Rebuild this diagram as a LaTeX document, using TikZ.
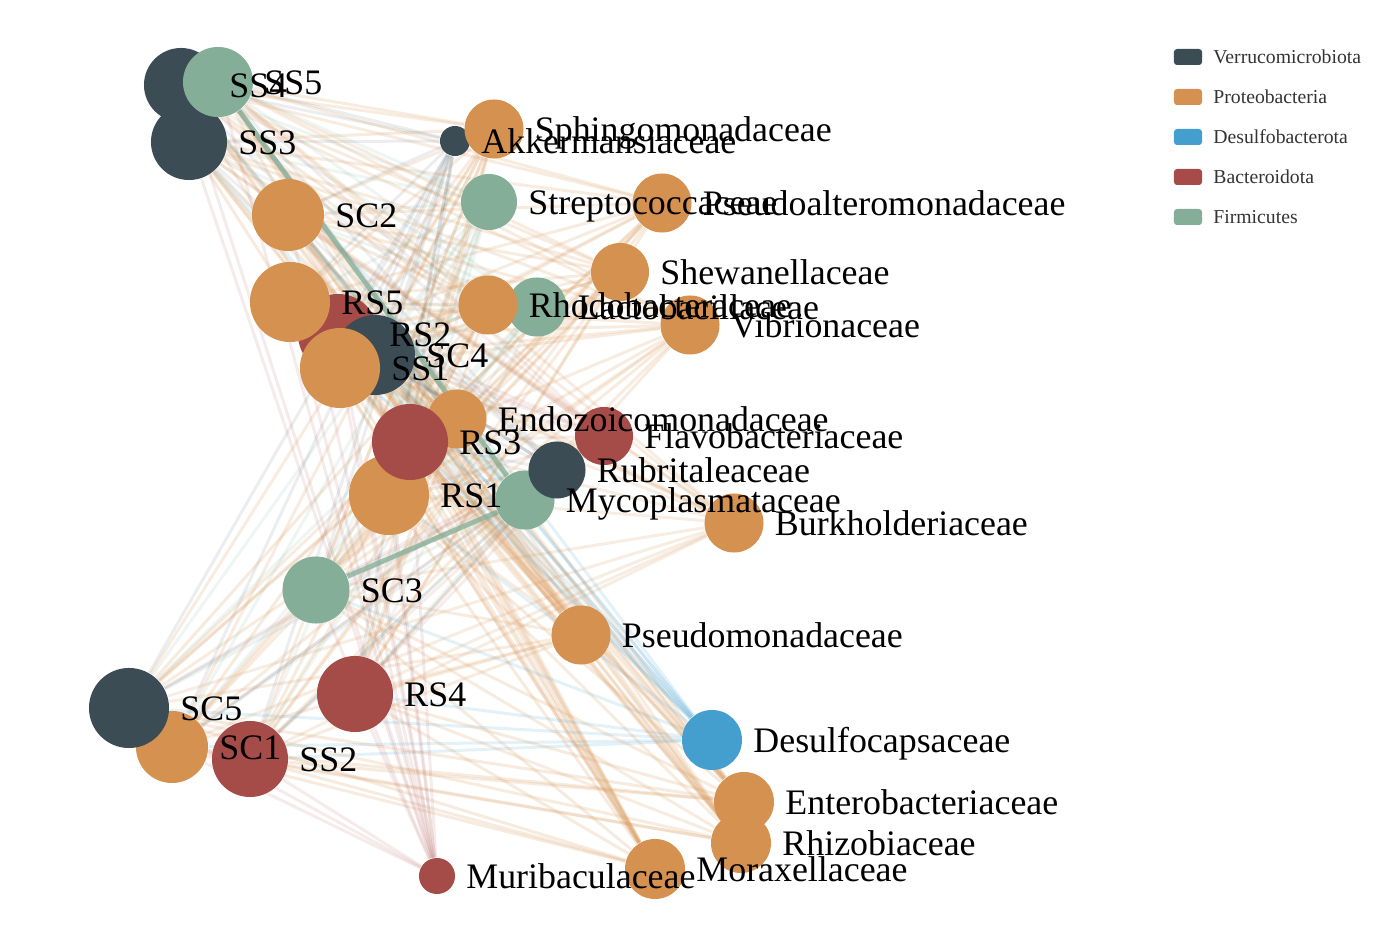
\documentclass[tikz,border=0pt]{standalone}
\usepackage{fontspec}
\setmainfont{Liberation Serif}
\usetikzlibrary{positioning}
\definecolor{verru}{RGB}{59,76,85}
\definecolor{prot}{RGB}{212,145,79}
\definecolor{desul}{RGB}{68,159,207}
\definecolor{bact}{RGB}{165,75,72}
\definecolor{firm}{RGB}{132,174,151}
\pgfdeclarelayer{background}
\pgfsetlayers{background,main}
\tikzset{
  bub/.style     = {circle, inner sep=0pt, minimum size=#1mm},
  bub/.default   = 5.9,
  lbl/.style     = {anchor=base west, inner sep=0pt, font=\fontsize{10.2}{12}\selectfont},
  link/.style    = {draw=#1, line width=0.3mm},
  hub/.style     = {draw=#1, line width=0.5mm, draw opacity=0.75},
  key/.style     = {rectangle, rounded corners=0.3mm, minimum width=2.8mm,
                    minimum height=1.6mm, inner sep=0pt},
  keytext/.style = {inner sep=0pt, text=black!80, font=\fontsize{5.6}{7}\selectfont},
}

\begin{document}
\begin{tikzpicture}[x=0.01cm, y=-0.01cm]
  \useasboundingbox (0,0) rectangle (1390,946);

  % sample nodes
  \node[bub=7.4, fill=verru] (SS4) at (181,85)  {};
  \node[bub=7.6, fill=verru] (SS3) at (189,142) {};
  \node[bub=7.0, fill=firm]  (SS5) at (218,82)  {};
  \node[bub=7.2, fill=prot]  (SC2) at (288,215) {};
  \node[bub=8.0, fill=bact]  (RS2) at (338,334) {};
  \node[bub=8.0, fill=prot]  (RS5) at (290,302) {};
  \node[bub=8.0, fill=verru] (SC4) at (375,355) {};
  \node[bub=8.0, fill=prot]  (SS1) at (340,368) {};
  \node[bub=8.0, fill=prot]  (RS1) at (389,495) {};
  \node[bub, fill=prot]      (Endozoicomonadaceae) at (457,419) {};
  \node[bub=7.6, fill=bact]  (RS3) at (410,442) {};

  % families
  \node[bub=3.0, fill=verru] (Akkermansiaceae)   at (455,141) {};
  \node[bub, fill=prot]      (Sphingomonadaceae) at (494,129) {};
  \node[bub=5.6, fill=firm]  (Streptococcaceae)  at (489,202) {};
  \node[bub, fill=prot]      (Pseudoalteromonadaceae) at (662,203) {};
  \node[bub=5.8, fill=prot]  (Shewanellaceae)    at (620,272) {};
  \node[bub, fill=firm]      (Lactobacillaceae)  at (537,307) {};
  \node[bub, fill=prot]      (Rhodobacteraceae)  at (488,305) {};
  \node[bub, fill=prot]      (Vibrionaceae)      at (690,325) {};
  \node[bub=5.8, fill=bact]  (Flavobacteriaceae) at (604,436) {};
  \node[bub, fill=firm]      (Mycoplasmataceae)  at (525,500) {};
  \node[bub=5.7, fill=verru] (Rubritaleaceae)    at (557,470) {};
  \node[bub, fill=prot]      (Burkholderiaceae)  at (734,523) {};

  \node[bub=6.7, fill=firm]  (SC3) at (316,590) {};
  \node[bub, fill=prot]      (Pseudomonadaceae)  at (581,635) {};
  \node[bub=7.6, fill=bact]  (RS4) at (355,694) {};
  \node[bub=7.2, fill=prot]  (SC1) at (172,747) {};
  \node[bub=8.0, fill=verru] (SC5) at (129,708) {};
  \node[bub=7.6, fill=bact]  (SS2) at (250,759) {};

  \node[bub=6.0, fill=desul] (Desulfocapsaceae)   at (712,740) {};
  \node[bub=6.0, fill=prot]  (Enterobacteriaceae) at (744,802) {};
  \node[bub=6.0, fill=prot]  (Rhizobiaceae)       at (741,843) {};
  \node[bub=6.0, fill=prot]  (Moraxellaceae)      at (655,869) {};
  \node[bub=3.6, fill=bact]  (Muribaculaceae)     at (437,876) {};

  % labels over every circle
  \foreach \n in {SS4,SS5,SS3,SC2,RS5,RS2,SC4,SS1,RS3,RS1,SC3,RS4,SC5,SC1,SS2,
                  Sphingomonadaceae,Akkermansiaceae,Streptococcaceae,
                  Pseudoalteromonadaceae,Shewanellaceae,Rhodobacteraceae,
                  Lactobacillaceae,Vibrionaceae,Endozoicomonadaceae,
                  Flavobacteriaceae,Rubritaleaceae,Mycoplasmataceae,
                  Burkholderiaceae,Pseudomonadaceae,Desulfocapsaceae,
                  Enterobacteriaceae,Rhizobiaceae,Moraxellaceae,Muribaculaceae}
    \node[lbl] at ([xshift=1mm, yshift=-1.26mm]\n.east) {\n};

  % legend
  \foreach \c/\t [count=\i] in {verru/Verrucomicrobiota, prot/Proteobacteria,
                                desul/Desulfobacterota, bact/Bacteroidota,
                                firm/Firmicutes} {
    \node[key, fill=\c] (key\i) at (1188, 17+40*\i) {};
    \node[keytext, right=1mm of key\i] {\t};
  }

  % links
  \begin{pgfonlayer}{background}
    \foreach \p in {SS,SC,RS}
      \foreach \i in {1,...,5}
        \foreach \f/\c/\o in {Akkermansiaceae/verru/.10, Sphingomonadaceae/prot/.17,
                              Streptococcaceae/firm/.13, Pseudoalteromonadaceae/prot/.17,
                              Shewanellaceae/prot/.17, Lactobacillaceae/firm/.13,
                              Rhodobacteraceae/prot/.19, Vibrionaceae/prot/.17,
                              Endozoicomonadaceae/prot/.17, Flavobacteriaceae/bact/.10,
                              Mycoplasmataceae/firm/.14, Rubritaleaceae/verru/.09,
                              Burkholderiaceae/prot/.16, Pseudomonadaceae/prot/.17,
                              Desulfocapsaceae/desul/.15, Enterobacteriaceae/prot/.18,
                              Rhizobiaceae/prot/.17, Moraxellaceae/prot/.18,
                              Muribaculaceae/bact/.11}
          \draw[link=\c, draw opacity=\o] (\p\i) -- (\f);
    \draw[hub=firm] (SS5) -- (Mycoplasmataceae);
    \draw[hub=firm] (SC3) -- (Mycoplasmataceae);
  \end{pgfonlayer}
\end{tikzpicture}
\end{document}
